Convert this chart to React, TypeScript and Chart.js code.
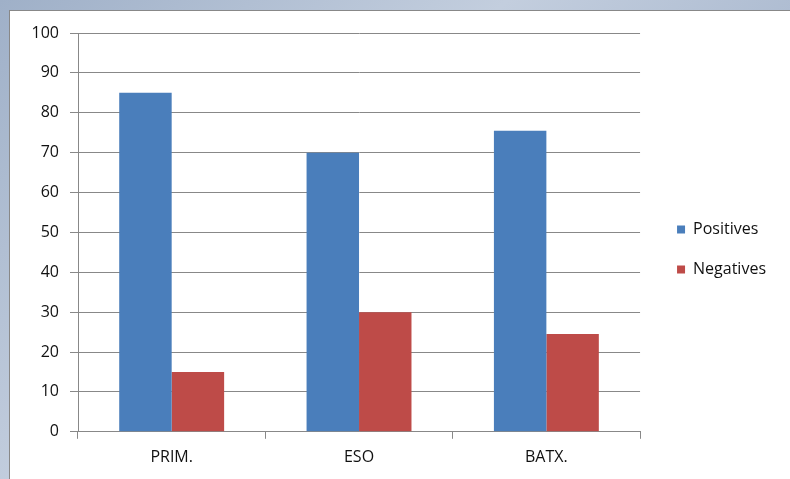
import React, { useEffect, useRef } from "react";
import { Chart, registerables } from "chart.js";

Chart.register(...registerables);

const categories = ["PRIM.", "ESO", "BATX."];
const positives = [85, 70, 75.5];
const negatives = [15, 30, 24.5];
const yTicks = [0, 10, 20, 30, 40, 50, 60, 70, 80, 90, 100];

const legendNudge = {
  id: "legendNudge",
  afterLayout(chart: any) {
    const lg = chart.legend;
    if (!lg) return;
    lg.left += 13;
    lg.right += 13;
    lg.top -= 5;
    lg.bottom -= 5;
  },
};

export default function App() {
  const ref = useRef<HTMLCanvasElement | null>(null);
  useEffect(() => {
    if (!ref.current) return;
    const font = { family: "'Open Sans', sans-serif", size: 16 };
    const chart = new Chart(ref.current, {
      type: "bar",
      data: {
        labels: categories,
        datasets: [
          { label: "Positives", data: positives, backgroundColor: "#4a7ebb", borderWidth: 0 },
          { label: "Negatives", data: negatives, backgroundColor: "#be4b48", borderWidth: 0 },
        ],
      },
      plugins: [legendNudge],
      options: {
        animation: false,
        responsive: false,
        maintainAspectRatio: false,
        layout: { padding: { top: 22, right: 27, bottom: 3, left: 0 } },
        datasets: { bar: { categoryPercentage: 0.56, barPercentage: 1 } } as any,
        plugins: {
          tooltip: { enabled: false },
          legend: {
            position: "right",
            labels: {
              boxWidth: 8,
              boxHeight: 8,
              padding: 24,
              color: "#111",
              font,
            },
          },
        },
        scales: {
          x: {
            grid: {
              offset: true,
              display: true,
              drawOnChartArea: false,
              drawTicks: true,
              tickLength: 7,
              color: "#888",
            },
            border: { color: "#888", width: 1 },
            ticks: { color: "#111", font, padding: 9 },
          },
          y: {
            min: 0,
            max: 100,
            afterBuildTicks: (s: any) => {
              s.ticks = yTicks.map((v) => ({ value: v }));
            },
            afterFit: (s: any) => {
              s.width = 68;
            },
            grid: { color: "#888", tickLength: 8 },
            border: { color: "#888", width: 1 },
            ticks: { color: "#111", font, padding: 11 },
          },
        },
      },
    });
    return () => chart.destroy();
  }, []);
  return (
    <div
      style={{
        position: "fixed",
        inset: 0,
        width: 790,
        height: 479,
        background: "linear-gradient(135deg, #9fb0c8 0%, #c3cede 40%, #8fa2bf 100%)",
      }}
    >
      <div
        style={{
          position: "absolute",
          left: 9,
          top: 10,
          width: 781,
          height: 469,
          background: "#fff",
          borderTop: "1px solid #888",
          borderLeft: "1px solid #888",
          boxSizing: "border-box",
        }}
      >
        <canvas ref={ref} width={780} height={468} style={{ display: "block" }} />
      </div>
    </div>
  );
}
